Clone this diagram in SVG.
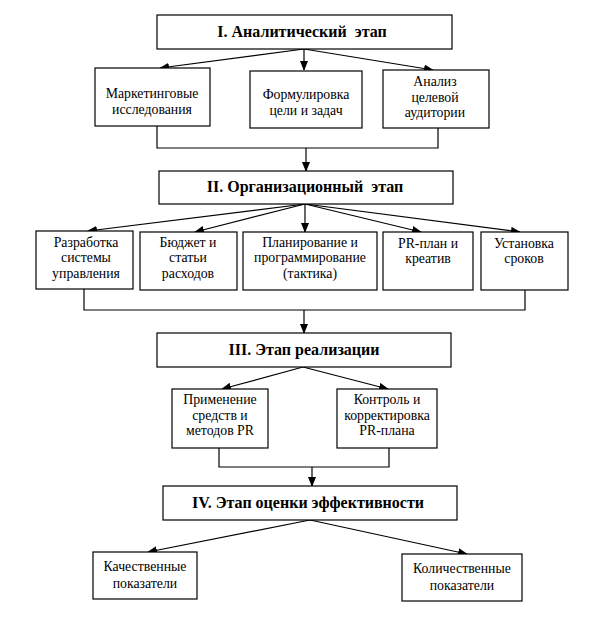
<svg xmlns="http://www.w3.org/2000/svg" width="602" height="631" viewBox="0 0 602 631">
<style>
.box{fill:#fff;stroke:#000;stroke-width:1.2}
.t{font-size:13.8px;fill:#000;text-anchor:middle}
.h{font-size:16px;font-weight:bold;fill:#000;text-anchor:middle;white-space:pre}
.c{fill:none;stroke:#000;stroke-width:1.2}
</style>
<defs>
<marker id="arr" markerWidth="10" markerHeight="8" refX="9" refY="4" orient="auto" markerUnits="userSpaceOnUse">
<path d="M0,0 L10,4 L0,8 Z" fill="#000"/>
</marker>
</defs>
<rect width="602" height="631" fill="#fff"/>
<g id="connectors">
<line class="c" x1="304" y1="49" x2="160" y2="68" marker-end="url(#arr)"/>
<line class="c" x1="304" y1="49" x2="304" y2="70" marker-end="url(#arr)"/>
<line class="c" x1="304" y1="49" x2="433" y2="70" marker-end="url(#arr)"/>
<polyline class="c" points="157,126 157,148 438,148 438,128"/>
<line class="c" x1="306" y1="148" x2="306" y2="171" marker-end="url(#arr)"/>
<line class="c" x1="305" y1="204" x2="88" y2="231" marker-end="url(#arr)"/>
<line class="c" x1="305" y1="204" x2="195" y2="232" marker-end="url(#arr)"/>
<line class="c" x1="305" y1="204" x2="305" y2="232" marker-end="url(#arr)"/>
<line class="c" x1="305" y1="204" x2="421" y2="232" marker-end="url(#arr)"/>
<line class="c" x1="305" y1="204" x2="520" y2="232" marker-end="url(#arr)"/>
<polyline class="c" points="84,289 84,310 525,310 525,290"/>
<line class="c" x1="304" y1="310" x2="304" y2="333" marker-end="url(#arr)"/>
<line class="c" x1="303" y1="367" x2="222" y2="389" marker-end="url(#arr)"/>
<line class="c" x1="303" y1="367" x2="388" y2="389" marker-end="url(#arr)"/>
<polyline class="c" points="219,448 219,467 389,467 389,448"/>
<line class="c" x1="312" y1="467" x2="312" y2="486" marker-end="url(#arr)"/>
<line class="c" x1="310" y1="520" x2="148" y2="552" marker-end="url(#arr)"/>
<line class="c" x1="310" y1="520" x2="467" y2="554" marker-end="url(#arr)"/>
</g>
<g font-family="Liberation Serif, Times New Roman, serif">
<g id="stage1">
<rect class="box" x="157" y="15" width="295" height="34"/>
<text class="h" x="302" y="37" xml:space="preserve">I. Аналитический  этап</text>
</g>
<g id="marketing">
<rect class="box" x="95" y="68" width="115" height="58"/>
<text class="t" x="152" y="98">Маркетинговые</text>
<text class="t" x="152" y="113.5">исследования</text>
</g>
<g id="formulation">
<rect class="box" x="250" y="71" width="112" height="57"/>
<text class="t" x="306" y="99">Формулировка</text>
<text class="t" x="306" y="114.5">цели и задач</text>
</g>
<g id="audience">
<rect class="box" x="383" y="70" width="106" height="58"/>
<text class="t" x="435" y="86.3">Анализ</text>
<text class="t" x="435" y="101.8">целевой</text>
<text class="t" x="435" y="117.3">аудитории</text>
</g>
<g id="stage2">
<rect class="box" x="159" y="171" width="294" height="33"/>
<text class="h" x="305" y="192" xml:space="preserve">II. Организационный  этап</text>
</g>
<g id="system">
<rect class="box" x="36" y="231" width="97" height="58"/>
<text class="t" x="86" y="246.6">Разработка</text>
<text class="t" x="86" y="262.1">системы</text>
<text class="t" x="86" y="277.6">управления</text>
</g>
<g id="budget">
<rect class="box" x="140" y="232" width="97" height="58"/>
<text class="t" x="188" y="246.6">Бюджет и</text>
<text class="t" x="188" y="262.1">статьи</text>
<text class="t" x="188" y="277.6">расходов</text>
</g>
<g id="planning">
<rect class="box" x="243" y="232" width="134" height="58"/>
<text class="t" x="310" y="246.6">Планирование и</text>
<text class="t" x="310" y="262.1">программирование</text>
<text class="t" x="310" y="277.6">(тактика)</text>
</g>
<g id="prplan">
<rect class="box" x="383" y="232" width="90" height="58"/>
<text class="t" x="428" y="247.5">PR-план и</text>
<text class="t" x="428" y="263">креатив</text>
</g>
<g id="deadlines">
<rect class="box" x="481" y="232" width="87" height="58"/>
<text class="t" x="524" y="247.5">Установка</text>
<text class="t" x="524" y="263">сроков</text>
</g>
<g id="stage3">
<rect class="box" x="157" y="333" width="294" height="34"/>
<text class="h" x="304" y="355">III. Этап реализации</text>
</g>
<g id="apply">
<rect class="box" x="172" y="389" width="96" height="59"/>
<text class="t" x="220" y="404">Применение</text>
<text class="t" x="220" y="419.5">средств и</text>
<text class="t" x="220" y="435">методов PR</text>
</g>
<g id="control">
<rect class="box" x="337" y="389" width="100" height="59"/>
<text class="t" x="387" y="404">Контроль и</text>
<text class="t" x="387" y="419.5">корректировка</text>
<text class="t" x="387" y="435">PR-плана</text>
</g>
<g id="stage4">
<rect class="box" x="163" y="486" width="294" height="34"/>
<text class="h" x="308" y="508">IV. Этап оценки эффективности</text>
</g>
<g id="quality">
<rect class="box" x="93" y="552" width="104" height="47"/>
<text class="t" x="145" y="571">Качественные</text>
<text class="t" x="145" y="588">показатели</text>
</g>
<g id="quantity">
<rect class="box" x="402" y="554" width="120" height="47"/>
<text class="t" x="462" y="573">Количественные</text>
<text class="t" x="462" y="590">показатели</text>
</g>
</g>
</svg>
